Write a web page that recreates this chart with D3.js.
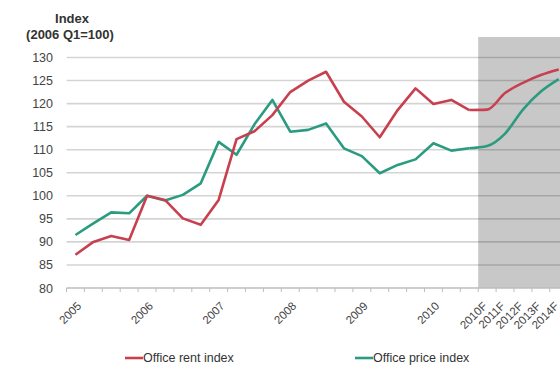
<!DOCTYPE html>
<html>
<head>
<meta charset="utf-8">
<script src="https://cdn.jsdelivr.net/npm/d3@7"></script>
<style>
    body { margin: 0; background: #fff; }
    svg { display: block; font-family: 'Liberation Sans', Arial, sans-serif; }
</style>
</head>
<body>
<svg id="chart" width="560" height="370"></svg>
<script>
// periods: quarterly history 2005Q1-2010Q3, then annual forecasts
var periods = [
    '2005Q1', '2005Q2', '2005Q3', '2005Q4',
    '2006Q1', '2006Q2', '2006Q3', '2006Q4',
    '2007Q1', '2007Q2', '2007Q3', '2007Q4',
    '2008Q1', '2008Q2', '2008Q3', '2008Q4',
    '2009Q1', '2009Q2', '2009Q3', '2009Q4',
    '2010Q1', '2010Q2', '2010Q3',
    '2010F', '2011F', '2012F', '2013F', '2014F'
];

var tickLabels = [
    '2005', '', '', '',
    '2006', '', '', '',
    '2007', '', '', '',
    '2008', '', '', '',
    '2009', '', '', '',
    '2010', '', '',
    '2010F', '2011F', '2012F', '2013F', '2014F'
];

var rentIndex = [
    87.2, 90.0, 91.3, 90.4,
    100, 99.1, 95.1, 93.7,
    99.1, 112.3, 114, 117.5,
    122.5, 125, 126.9, 120.4,
    117.2, 112.7, 118.6, 123.3,
    119.9, 120.8, 118.6,
    118.7, 122.3, 124.5, 126.2, 127.4
];

var priceIndex = [
    91.5, 94.0, 96.4, 96.2,
    100, 99.0, 100.2, 102.7,
    111.7, 108.9, 115.5, 120.8,
    113.9, 114.3, 115.7, 110.3,
    108.6, 104.9, 106.7, 107.9,
    111.4, 109.8, 110.3,
    110.8, 113.5, 118.7, 122.6, 125.3
];

var yTicks = [80, 85, 90, 95, 100, 105, 110, 115, 120, 125, 130];

var firstForecast = '2010F';
var rentColor = '#c8404f';
var priceColor = '#2b9b80';

var svg = d3.select('#chart');

var x = d3.scaleBand()
    .domain(periods)
    .range([66.5, 66.5 + 17.9 * periods.length]);

var y = d3.scaleLinear()
    .domain([80, 130])
    .range([288, 57.5]);

var cx = function (p) { return x(p) + x.bandwidth() / 2; };

// 预测区背景
svg.append('rect')
    .attr('x', x(firstForecast))
    .attr('y', 37)
    .attr('width', 560 - x(firstForecast))
    .attr('height', y(80) - 37)
    .attr('fill', '#c8c8c8');

// 网格线
svg.append('g')
    .selectAll('line')
    .data(yTicks.slice(1))
    .join('line')
    .attr('x1', x.range()[0])
    .attr('x2', x.range()[1])
    .attr('y1', function (d) { return y(d); })
    .attr('y2', function (d) { return y(d); })
    .attr('stroke', 'rgba(0,0,0,0.17)')
    .attr('stroke-width', 1.6);

// y 轴
var yAxis = svg.append('g')
    .attr('transform', 'translate(53,0)')
    .call(d3.axisLeft(y).tickValues(yTicks).tickSize(0).tickPadding(0));

yAxis.select('.domain').remove();
yAxis.selectAll('text')
    .attr('font-size', 12.5)
    .attr('font-family', 'Liberation Sans, Arial, sans-serif')
    .attr('fill', '#444');

// x 轴
var xAxis = svg.append('g')
    .attr('transform', 'translate(0,' + y(80) + ')');

xAxis.append('line')
    .attr('x1', x.range()[0])
    .attr('x2', x.range()[1])
    .attr('stroke', '#bdbdbd')
    .attr('stroke-width', 1.6);

xAxis.selectAll('line.tick')
    .data(periods)
    .join('line')
    .attr('class', 'tick')
    .attr('x1', function (d) { return x(d); })
    .attr('x2', function (d) { return x(d); })
    .attr('y1', 0)
    .attr('y2', 4)
    .attr('stroke', '#bdbdbd');

// 预测标签较挤, 略向左偏
xAxis.selectAll('text')
    .data(periods.filter(function (d, i) { return tickLabels[i] !== ''; }))
    .join('text')
    .attr('transform', function (d) {
        var off = d.indexOf('F') > 0 ? -5 : 1;
        return 'translate(' + (cx(d) + off) + ',13) rotate(-45)';
    })
    .attr('text-anchor', 'end')
    .attr('dy', '0.7em')
    .attr('font-size', 11.5)
    .attr('fill', '#444')
    .text(function (d) { return tickLabels[periods.indexOf(d)]; });

// 标题
svg.append('text')
    .attr('x', 72)
    .attr('y', 23)
    .attr('text-anchor', 'middle')
    .attr('font-size', 13)
    .attr('font-weight', 'bold')
    .attr('fill', '#333')
    .text('Index');

svg.append('text')
    .attr('x', 70)
    .attr('y', 39)
    .attr('text-anchor', 'middle')
    .attr('font-size', 13)
    .attr('font-weight', 'bold')
    .attr('fill', '#333')
    .text('(2006 Q1=100)');

// 折线: 历史段为直线, 预测段平滑
var splitIdx = periods.indexOf(firstForecast) - 1;

var straight = d3.line()
    .x(function (d) { return cx(d.p); })
    .y(function (d) { return y(d.v); });

var smooth = d3.line()
    .x(function (d) { return cx(d.p); })
    .y(function (d) { return y(d.v); })
    .curve(d3.curveMonotoneX);

[[priceIndex, priceColor], [rentIndex, rentColor]].forEach(function (s) {
    var pts = periods.map(function (p, i) { return { p: p, v: s[0][i] }; });

    svg.append('path')
        .attr('d', straight(pts.slice(0, splitIdx + 1)))
        .attr('fill', 'none')
        .attr('stroke', s[1])
        .attr('stroke-width', 2.6)
        .attr('stroke-linejoin', 'round');

    svg.append('path')
        .attr('d', smooth(pts.slice(splitIdx)))
        .attr('fill', 'none')
        .attr('stroke', s[1])
        .attr('stroke-width', 2.6);
});

// 图例
var legendItems = [
    { name: 'Office rent index', color: rentColor, x: 125 },
    { name: 'Office price index', color: priceColor, x: 355 }
];

var legend = svg.append('g')
    .attr('transform', 'translate(0,358)');

legendItems.forEach(function (d) {
    legend.append('line')
        .attr('x1', d.x)
        .attr('x2', d.x + 18)
        .attr('stroke', d.color)
        .attr('stroke-width', 2.6);

    legend.append('text')
        .attr('x', d.x + 18)
        .attr('dy', '0.35em')
        .attr('font-size', 12.5)
        .attr('fill', '#333')
        .text(d.name);
});
</script>
</body>
</html>
